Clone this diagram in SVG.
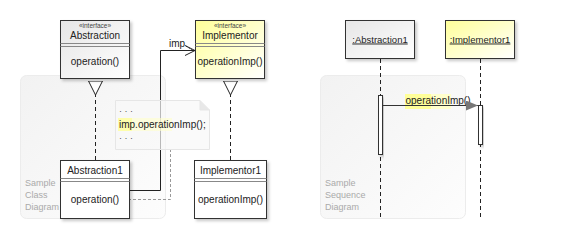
<svg xmlns="http://www.w3.org/2000/svg" width="580" height="240" viewBox="0 0 580 240">
<defs>
<linearGradient id="gGray" x1="0" y1="0" x2="1" y2="1">
<stop offset="0" stop-color="#e6e6e6"/><stop offset="1" stop-color="#ffffff"/>
</linearGradient>
<linearGradient id="gYel" x1="0" y1="0" x2="1" y2="1">
<stop offset="0" stop-color="#ffff99"/><stop offset="1" stop-color="#ffffff"/>
</linearGradient>
<linearGradient id="gPanel" x1="0" y1="0" x2="1" y2="1">
<stop offset="0" stop-color="#f2f2f2"/><stop offset="1" stop-color="#fdfdfd"/>
</linearGradient>
<filter id="sh" x="-20%" y="-20%" width="150%" height="150%">
<feDropShadow dx="2" dy="2" stdDeviation="1.5" flood-color="#000" flood-opacity="0.22"/>
</filter>
<marker id="tri" viewBox="0 0 14 16" refX="0" refY="8" markerWidth="14" markerHeight="16" orient="auto" markerUnits="userSpaceOnUse">
<path d="M14,1 L0,8 L14,15 Z" fill="#fff" stroke="#222" stroke-width="1"/>
</marker>
<marker id="open" viewBox="0 0 12 12" refX="11" refY="6" markerWidth="12" markerHeight="12" orient="auto" markerUnits="userSpaceOnUse">
<path d="M1,1 L11,6 L1,11" fill="none" stroke="#222" stroke-width="1"/>
</marker>
<marker id="fill" viewBox="0 0 12 10" refX="12" refY="5" markerWidth="12" markerHeight="10" orient="auto" markerUnits="userSpaceOnUse">
<path d="M0,0 L12,5 L0,10 Z" fill="#777"/>
</marker>
</defs>
<style>
text{font-family:"Liberation Sans",Arial,sans-serif;fill:#222}
.t{font-size:10px}
.s{font-size:6.5px;fill:#444}
.panel{fill:url(#gPanel);stroke:#ececec;stroke-width:1}
.pl{font-size:9px;fill:#aaa}
.box{stroke:#333;stroke-width:1;filter:url(#sh)}
.g{fill:url(#gGray)}
.y{fill:url(#gYel)}
.w{fill:#fff}
.div{stroke:#888;stroke-width:1}
.dash{stroke:#222;stroke-width:1;stroke-dasharray:4,3;fill:none}
.ll{stroke:#222;stroke-width:1;stroke-dasharray:4,3;fill:none}
.gd{stroke:#999;stroke-width:1;stroke-dasharray:3,2;fill:none}
.hl{fill:#ffff99}
.dots{font-size:9px;fill:#555}
</style>

<!-- panels -->
<g id="panelClass">
<rect class="panel" x="20.5" y="75.5" width="145" height="143" rx="6"/>
<text class="pl" x="25" y="186">Sample</text>
<text class="pl" x="25" y="198">Class</text>
<text class="pl" x="25" y="210">Diagram</text>
</g>
<g id="panelSeq">
<rect class="panel" x="320.5" y="75.5" width="145" height="143" rx="6"/>
<text class="pl" x="325" y="186">Sample</text>
<text class="pl" x="325" y="198">Sequence</text>
<text class="pl" x="325" y="210">Diagram</text>
</g>

<!-- connectors (behind note) -->
<g id="connectors">
<path class="dash" d="M95.5,160 V95" marker-end="url(#tri)"/>
<path class="dash" d="M230.5,160 V95" marker-end="url(#tri)"/>
<path d="M130,190.5 H160.5 V50.5 H195" fill="none" stroke="#222" stroke-width="1" marker-end="url(#open)"/>
<text class="t" x="169" y="47">imp</text>
<path d="M186,46 L192,50" stroke="#222" stroke-width="1" stroke-dasharray="1,1"/>
<path class="gd" d="M170.5,149 V199.5 H121"/>
</g>

<!-- note -->
<g id="note">
<path d="M115.5,100.5 H200 L209.5,110 V149.5 H115.5 Z" fill="#f8f8f8" fill-opacity="0.7" stroke="#e6e6e6" stroke-width="1"/>
<path d="M200,100.5 V110 H209.5" fill="#e8e8e8" stroke="#e6e6e6" stroke-width="1"/>
<text class="dots" x="119" y="114">· · ·</text>
<rect class="hl" x="118" y="118" width="14" height="13" opacity="0.8"/>
<rect x="132" y="118" width="40" height="13" fill="#ffffcc" opacity="0.6"/>
<text class="t" x="119" y="128">imp.operationImp();</text>
<text class="dots" x="119" y="141">· · ·</text>
</g>

<g id="Abstraction">
<rect class="box g" x="60.5" y="20.5" width="69" height="58"/>
<line class="div" x1="60.5" y1="43.5" x2="129.5" y2="43.5"/>
<line class="div" x1="60.5" y1="46.5" x2="129.5" y2="46.5"/>
<text class="s" x="95" y="27.5" text-anchor="middle">«interface»</text>
<text class="t" x="95" y="39" text-anchor="middle">Abstraction</text>
<text class="t" x="95" y="64.5" text-anchor="middle">operation()</text>
</g>

<g id="Implementor">
<rect class="box y" x="195.5" y="20.5" width="69" height="58"/>
<line class="div" x1="195.5" y1="43.5" x2="264.5" y2="43.5"/>
<line class="div" x1="195.5" y1="46.5" x2="264.5" y2="46.5"/>
<text class="s" x="230" y="27.5" text-anchor="middle">«interface»</text>
<text class="t" x="230" y="39" text-anchor="middle">Implementor</text>
<text class="t" x="230" y="64.5" text-anchor="middle">operationImp()</text>
</g>

<g id="Abstraction1">
<rect class="box w" x="60.5" y="160.5" width="69" height="58"/>
<line class="div" x1="60.5" y1="178.5" x2="129.5" y2="178.5"/>
<line class="div" x1="60.5" y1="181.5" x2="129.5" y2="181.5"/>
<text class="t" x="95" y="173.5" text-anchor="middle">Abstraction1</text>
<text class="t" x="95" y="202.5" text-anchor="middle">operation()</text>
</g>

<g id="Implementor1">
<rect class="box w" x="194.5" y="160.5" width="72" height="58"/>
<line class="div" x1="194.5" y1="178.5" x2="266.5" y2="178.5"/>
<line class="div" x1="194.5" y1="181.5" x2="266.5" y2="181.5"/>
<text class="t" x="230.5" y="173.5" text-anchor="middle">Implementor1</text>
<text class="t" x="230.5" y="202.5" text-anchor="middle">operationImp()</text>
</g>

<!-- sequence diagram -->
<g id="lifelines">
<line class="ll" x1="380.5" y1="59" x2="380.5" y2="219"/>
<line class="ll" x1="480.5" y1="59" x2="480.5" y2="219"/>
</g>

<g id="seqAbstraction1">
<rect class="box g" x="345.5" y="20.5" width="69" height="38"/>
<text x="380" y="42.5" font-size="9.5" text-anchor="middle" text-decoration="underline">:Abstraction1</text>
<rect class="w" x="378.5" y="95.5" width="4" height="59" stroke="#333" stroke-width="1" filter="url(#sh)"/>
</g>

<g id="seqImplementor1">
<rect class="box y" x="445.5" y="20.5" width="69" height="38"/>
<text x="480" y="42.5" font-size="9.5" text-anchor="middle" text-decoration="underline">:Implementor1</text>
<rect class="w" x="478.5" y="105.5" width="4" height="39" stroke="#333" stroke-width="1" filter="url(#sh)"/>
</g>

<g id="messages">
<rect class="hl" x="405" y="94" width="26" height="15"/>
<rect x="431" y="94" width="20" height="15" fill="#ffffcc"/>
<text class="t" x="405.5" y="104">operationImp()</text>
<line x1="382.5" y1="105.5" x2="478" y2="105.5" stroke="#333" stroke-width="1" marker-end="url(#fill)"/>
</g>
</svg>
